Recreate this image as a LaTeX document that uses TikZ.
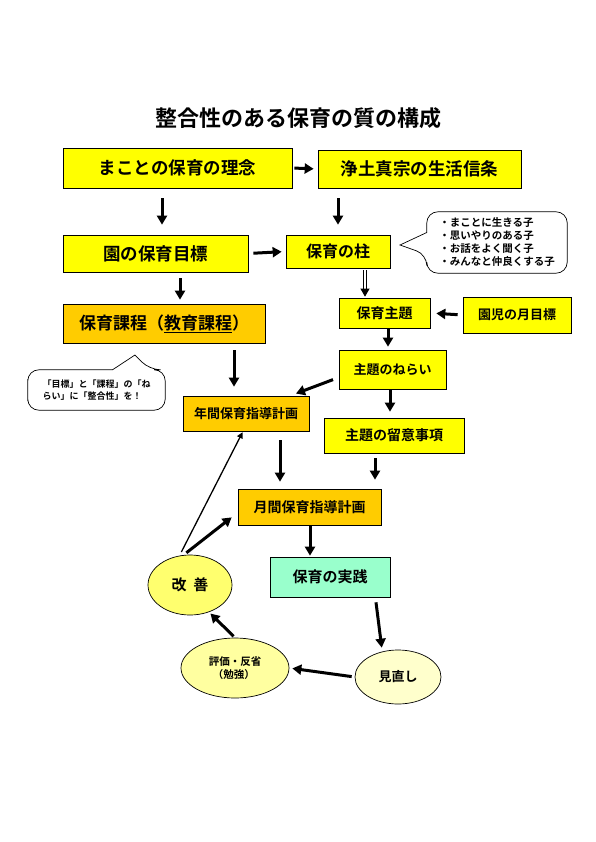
\documentclass[tikz,border=0pt]{standalone}
\usepackage{fontspec}
\usepackage{tikz}
\usetikzlibrary{arrows.meta,shapes.geometric}
\newfontfamily\jp{Noto Sans CJK JP}[BoldFont={Noto Sans CJK JP Bold}]
\definecolor{kiiro}{RGB}{255,255,0}
\definecolor{daidai}{RGB}{255,204,0}
\definecolor{mint}{RGB}{153,255,204}
\definecolor{usuki}{RGB}{255,255,110}
\definecolor{usuki2}{RGB}{255,255,160}
\definecolor{usuki3}{RGB}{255,255,204}
\newcommand{\fs}[1]{\fontsize{#1}{#1}\selectfont}

\begin{document}
\begin{tikzpicture}[x=1pt,y=-1pt,
  hako/.style={draw,line width=.7pt,inner sep=0pt,font=\jp\bfseries},
  maru/.style={ellipse,draw,line width=.7pt,inner sep=0pt,font=\jp\bfseries},
  ya/.style={line width=3pt,-{Triangle[length=9pt,width=10pt]}},
  hosoya/.style={line width=1.3pt,-{Triangle[length=6pt,width=6pt]}},
  fukidashi/.style={line width=.7pt,rounded corners=11pt}]
\useasboundingbox (0,0) rectangle (595,842);
\node[font=\jp\bfseries\fs{22}] (title) at (298,118) {整合性のある保育の質の構成};
% upper boxes
\node[hako,fill=kiiro,minimum width=229,minimum height=40,font=\jp\bfseries\fs{17.5}] (b1) at (177.5,168) {まことの保育の理念};
\node[hako,fill=kiiro,minimum width=203,minimum height=38,font=\jp\bfseries\fs{17.5}] (b2) at (419.5,169) {浄土真宗の生活信条};
\node[hako,fill=kiiro,minimum width=185,minimum height=37,font=\jp\bfseries\fs{17.5}] (b3) at (155.5,253.5) {園の保育目標};
\node[hako,fill=kiiro,minimum width=104,minimum height=33,font=\jp\bfseries\fs{16}] (b4) at (338,251.5) {保育の柱};
\node[hako,fill=daidai,minimum width=202,minimum height=39,font=\jp\bfseries\fs{17}] (b5) at (164,323.5) {保育課程（\underline{教育課程}）};
\node[hako,fill=kiiro,minimum width=91,minimum height=30,font=\jp\bfseries\fs{14}] (b6) at (384.5,313) {保育主題};
\node[hako,fill=kiiro,minimum width=108,minimum height=36,font=\jp\bfseries\fs{13}] (b7) at (517,315) {園児の月目標};
\node[hako,fill=kiiro,minimum width=107,minimum height=39,font=\jp\bfseries\fs{13}] (b8) at (392.5,369.5) {主題のねらい};
\node[hako,fill=daidai,minimum width=126,minimum height=35,font=\jp\bfseries\fs{13}] (b9) at (246,413.5) {年間保育指導計画};
\node[hako,fill=kiiro,minimum width=140,minimum height=35,font=\jp\bfseries\fs{14}] (b10) at (394,435.5) {主題の留意事項};
\node[hako,fill=daidai,minimum width=143,minimum height=36,font=\jp\bfseries\fs{14}] (b11) at (309.5,507) {月間保育指導計画};
\node[hako,fill=mint,minimum width=120,minimum height=40,font=\jp\bfseries\fs{15}] (b12) at (330,577) {保育の実践};
% cycle
\node[maru,fill=usuki,minimum width=84,minimum height=60,font=\jp\bfseries\fs{15}] (e1) at (190,585) {改\hspace{7pt}善};
\node[maru,fill=usuki2,minimum width=108,minimum height=60,font=\jp\bfseries\fs{10.5},align=left] (e2) at (235,668) {評価・反省\\[3pt]\hspace{4pt}（勉強）};
\node[maru,fill=usuki3,minimum width=86,minimum height=54,font=\jp\bfseries\fs{13}] (e3) at (398,677) {見直し};
% callouts
\node[minimum width=140,minimum height=61,inner sep=0pt,align=left,font=\jp\bfseries\fontsize{10.5}{13}\selectfont] (c1) at (497,242.5) {・まことに生きる子\\・思いやりのある子\\・お話をよく聞く子\\・みんなと仲良くする子};
\coordinate (tip1) at (400,245);
\draw[fukidashi] (c1.north) -- (c1.north east) -- (c1.south east) -- (c1.south west) -- ([yshift=-12]c1.west) [sharp corners]-- (tip1) -- ([yshift=10]c1.west) [rounded corners=11pt]-- (c1.north west) -- cycle;
\node[minimum width=137,minimum height=40,inner sep=0pt,align=left,font=\jp\bfseries\fontsize{9}{12.5}\selectfont] (c2) at (96.5,390) {「目標」と「課程」の「ね\\らい」に「整合性」を！};
\coordinate (tip2) at (135,355);
\draw[fukidashi] (c2.west) -- (c2.south west) -- (c2.south east) -- (c2.north east) -- ([xshift=53]c2.north) [sharp corners]-- (tip2) -- ([xshift=16]c2.north) [rounded corners=11pt]-- (c2.north west) -- cycle;
% arrows
\draw[ya,shorten <=2pt,shorten >=4pt] (b1.east) -- (b2.west);
\draw[ya,shorten <=10pt,shorten >=10pt] ([xshift=-15.5]b1.south) -- ([xshift=6.5]b3.north);
\draw[ya,shorten <=10pt,shorten >=10pt] ([xshift=-81.5]b2.south) -- (b4.north);
\draw[ya,shorten <=5pt,shorten >=4pt] (b3.east) -- (b4.west);
\draw[ya,shorten <=6pt,shorten >=4pt] ([xshift=24.5]b3.south) -- ([xshift=16]b5.north);
\draw[double,line width=.8pt,double distance=2.4pt,-{Triangle[length=8pt,width=9pt]},shorten <=2pt,shorten >=1pt] ([xshift=27]b4.south) -- ([xshift=-19.5]b6.north);
\draw[ya,shorten <=5pt,shorten >=6pt] (b7.west) -- (b6.east);
\draw[ya,shorten <=1pt,shorten >=3pt] ([xshift=3.5]b6.south) -- ([xshift=-4.5]b8.north);
\draw[ya,shorten <=6pt,shorten >=6pt] ([yshift=-8]b8.west) -- ([xshift=-19]b9.north east);
\draw[ya,shorten <=7pt,shorten >=9pt] ([xshift=70]b5.south) -- ([xshift=-12]b9.north);
\draw[ya,shorten <=1pt,shorten >=6pt] ([xshift=-2.5]b8.south) -- ([xshift=-4]b10.north);
\draw[ya,shorten <=9pt,shorten >=7pt] ([xshift=34]b9.south) -- ([xshift=-29.5]b11.north);
\draw[ya,shorten <=5pt,shorten >=9pt] ([xshift=-19]b10.south) -- ([xshift=65.5]b11.north);
\draw[ya,shorten >=1pt] ([xshift=.5]b11.south) -- ([xshift=-20]b12.north);
\draw[ya,shorten <=5pt,shorten >=2pt] ([xshift=-15]b12.south east) -- ([xshift=-16]e3.north);
\draw[ya,shorten <=3pt,shorten >=3pt] (e3.west) -- (e2.east);
\draw[ya,shorten <=2pt,shorten >=2pt] (e2.north) -- (e1.-55);
\draw[hosoya,shorten <=3pt,shorten >=1pt] ([xshift=-10]e1.north) -- ([xshift=-3]b9.south);
\draw[ya,shorten <=3pt] ([xshift=-6]e1.north) -- ([xshift=-6,yshift=8]b11.south west);
\end{tikzpicture}
\end{document}
